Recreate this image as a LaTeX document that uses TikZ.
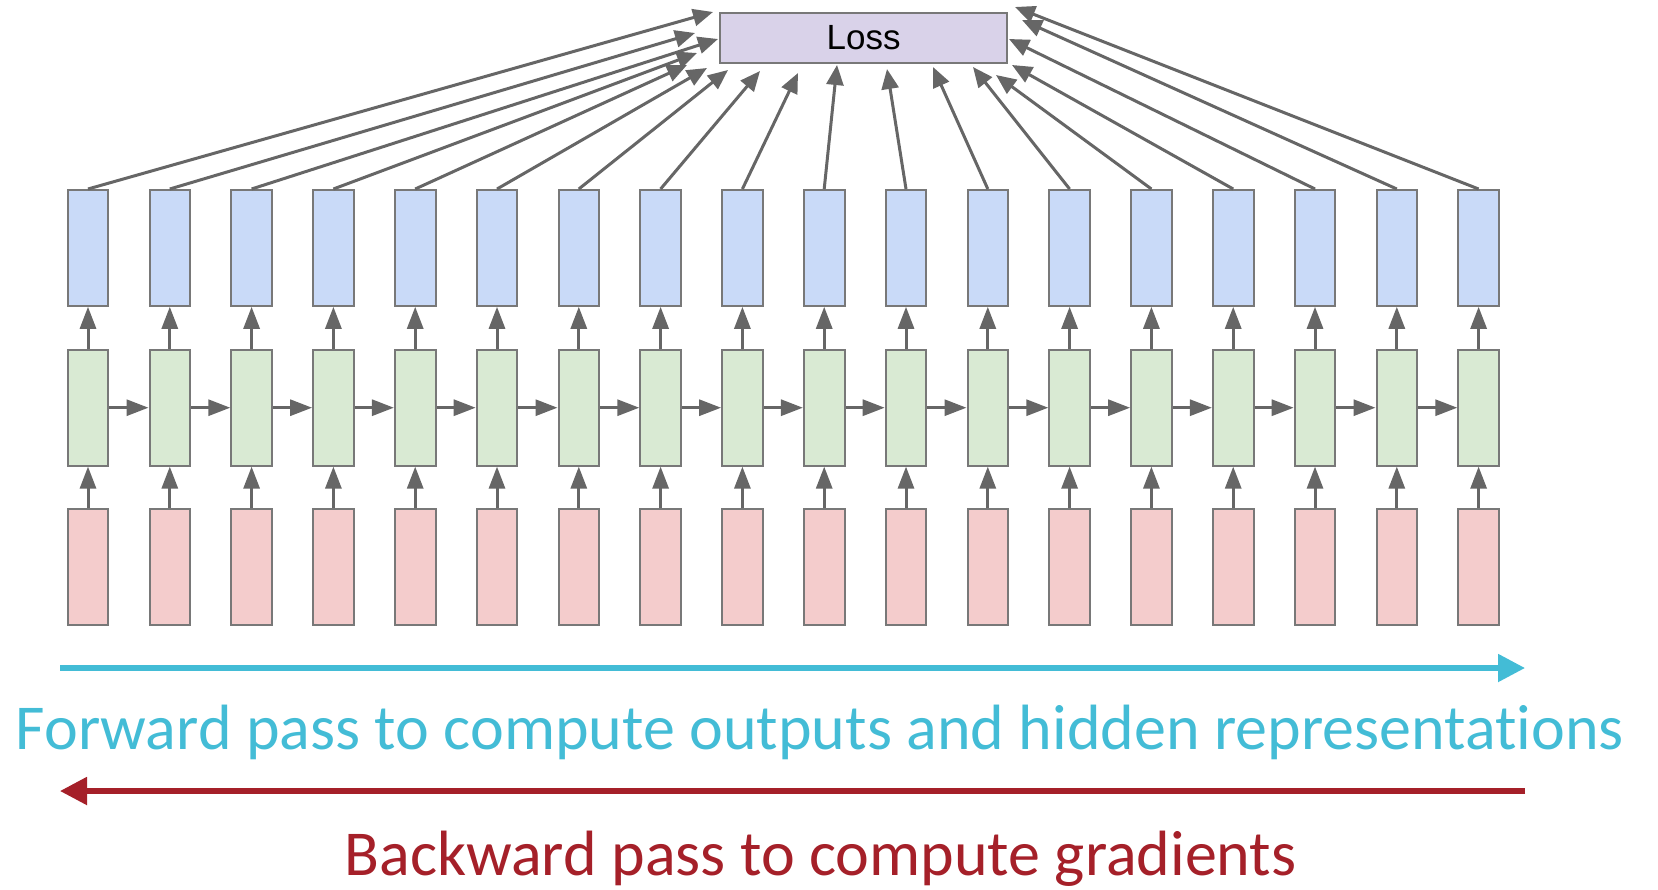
\documentclass[tikz,border=0pt]{standalone}
\usepackage{fontspec}
\setmainfont{Carlito}[Ligatures=NoCommon]
\newfontfamily\lossfont{Liberation Sans}
\usetikzlibrary{arrows.meta}

\definecolor{edgegray}{HTML}{787878}
\definecolor{arrowgray}{HTML}{666666}
\definecolor{outblue}{HTML}{C9DAF8}
\definecolor{hidgreen}{HTML}{D9EAD3}
\definecolor{inred}{HTML}{F4CCCC}
\definecolor{losspurple}{HTML}{D9D2E9}
\definecolor{fwdcyan}{HTML}{43BCD6}
\definecolor{bwdred}{HTML}{A52029}

\begin{document}
\begin{tikzpicture}[
    x=0.5pt, y=-0.5pt,
    cell/.style={draw=edgegray, line width=1pt, minimum width=20.3pt, minimum height=57.9pt, inner sep=0pt},
    outcell/.style={cell, fill=outblue},
    hidcell/.style={cell, fill=hidgreen},
    incell/.style={cell, fill=inred},
    flow/.style={draw=arrowgray, line width=1.5pt, -{Triangle[length=11pt, width=8pt]}},
    toloss/.style={draw=arrowgray, line width=1.5pt, -{Triangle[length=10pt, width=8.5pt]}},
    pass/.style={line width=2.6pt, -{Triangle[length=13.5pt, width=13.5pt]}},
    passtext/.style={anchor=base, inner sep=0pt, font=\fontsize{32}{38}\selectfont}
]
    \useasboundingbox (0,0) rectangle (1658,889);

    % Loss
    \node[draw=edgegray, line width=1pt, fill=losspurple, minimum width=143.5pt, minimum height=25.3pt,
        inner sep=0pt, font=\lossfont\fontsize{17.5}{20}\selectfont] (loss) at (863.6,38) {Loss};

    % Unrolled cells
    \foreach \i in {1,...,18} {
        \node[incell]  (x\i) at ({88+81.8*(\i-1)},567.2) {};
        \node[hidcell] (h\i) at ({88+81.8*(\i-1)},407.7) {};
        \node[outcell] (y\i) at ({88+81.8*(\i-1)},247.9) {};
        \draw[flow] (x\i) -- (h\i);
        \draw[flow] (h\i) -- (y\i);
    }
    \foreach \i [evaluate=\i as \j using int(\i+1)] in {1,...,17}
        \draw[flow] (h\i) -- (h\j);

    % Outputs to loss
    \foreach \i/\tx/\ty in {1/713/12, 2/695/33, 3/718/39, 4/697/53, 5/687/65, 6/707/68,
        7/728/70, 8/760/71, 9/798/73, 10/837/65, 11/887/69, 12/933/67,
        13/973/67, 14/996/75, 15/1012/65, 16/1009/39, 17/1022/20, 18/1015/7} {
        \coordinate (t\i) at (\tx,\ty);
        \draw[toloss] (y\i.north) -- (t\i);
    }

    % Forward / backward passes
    \coordinate (fwdL) at (60,668);
    \coordinate (fwdR) at (1525,668);
    \coordinate (bwdL) at (60,791);
    \coordinate (bwdR) at (1525,791);
    \draw[pass, fwdcyan] (fwdL) -- (fwdR);
    \draw[pass, bwdred] (bwdR) -- (bwdL);
    \node[passtext, text=fwdcyan] (fwdtext) at (820,749)
        {Forward pass to compute outputs and hidden representations};
    \node[passtext, text=bwdred] (bwdtext) at (820.5,875)
        {Backward pass to compute gradients};
\end{tikzpicture}
\end{document}
